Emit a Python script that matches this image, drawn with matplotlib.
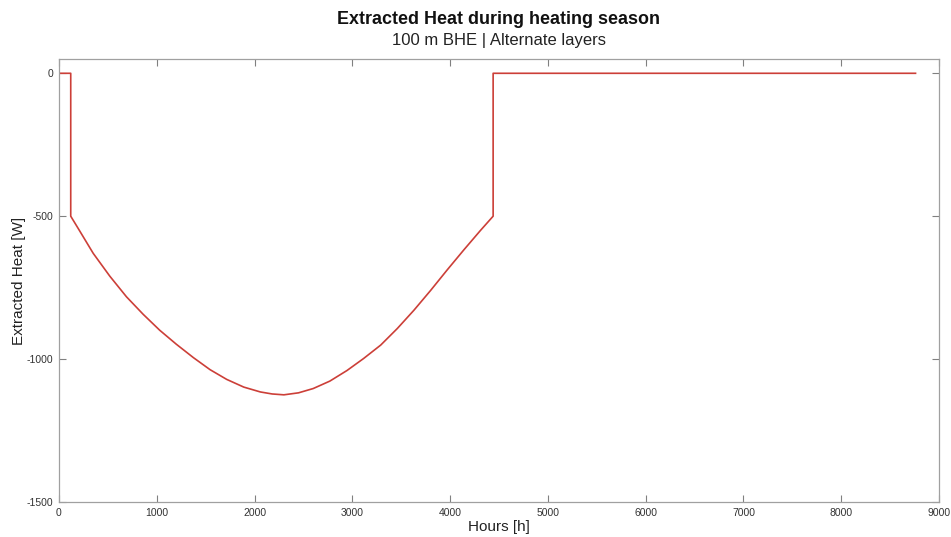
import matplotlib
matplotlib.use("Agg")
import matplotlib.pyplot as plt
from matplotlib import font_manager

plt.rcParams['axes.unicode_minus'] = False

hours = [0, 120, 120, 200, 350, 520, 690, 860, 1030, 1200, 1375, 1545, 1715, 1890, 2060,
         2180, 2300, 2450, 2600, 2770, 2945, 3115, 3290, 3460, 3630, 3800, 3970, 4140,
         4310, 4440, 4440, 8760]
heat = [0, 0, -500, -545, -630, -710, -782, -843, -899, -948, -995, -1037, -1071, -1098, -1115,
        -1122, -1125, -1118, -1103, -1077, -1040, -998, -951, -893, -829, -760, -688, -618,
        -550, -500, 0, 0]

xticks = [0, 1000, 2000, 3000, 4000, 5000, 6000, 7000, 8000, 9000]
yticks = [-1500, -1000, -500, 0]

names = {f.name for f in font_manager.fontManager.ttflist}
narrow = 'Liberation Sans Narrow' if 'Liberation Sans Narrow' in names else 'Liberation Sans'

fig = plt.figure(figsize=(9.51, 5.37), dpi=100)
ax = fig.add_axes([59/951, 35/537, 880/951, 443/537])
ax.plot(hours, heat, color='#cc3f38', lw=1.2)
ax.set_xlim(0, 9000)
ax.set_ylim(-1500, 50)
ax.set_xticks(xticks)
ax.set_yticks(yticks)
ax.tick_params(direction='in', length=5, width=0.8, colors='#808080', labelcolor='#333333',
               labelsize=7.5, top=True, right=True, pad=4)
for lab in ax.get_xticklabels() + ax.get_yticklabels():
    lab.set_family(narrow)
for s in ax.spines.values():
    s.set_color('#a0a0a0')
    s.set_linewidth(0.9)
ax.set_xlabel('Hours [h]', fontsize=11, family='Liberation Sans', color='#222222', labelpad=2)
ax.set_ylabel('Extracted Heat [W]', fontsize=11, family='Liberation Sans', color='#222222')
ax.yaxis.set_label_coords(-0.037, 0.5)
fig.text(499/951, 1 - 20/537, 'Extracted Heat during heating season', ha='center', va='center',
         fontsize=12.9, fontweight='bold', family=narrow, color='#111111')
fig.text(499/951, 1 - 41/537, '100 m BHE | Alternate layers', ha='center', va='center',
         fontsize=12, family='Liberation Sans', color='#222222')
fig.savefig('out.png', dpi=100)
